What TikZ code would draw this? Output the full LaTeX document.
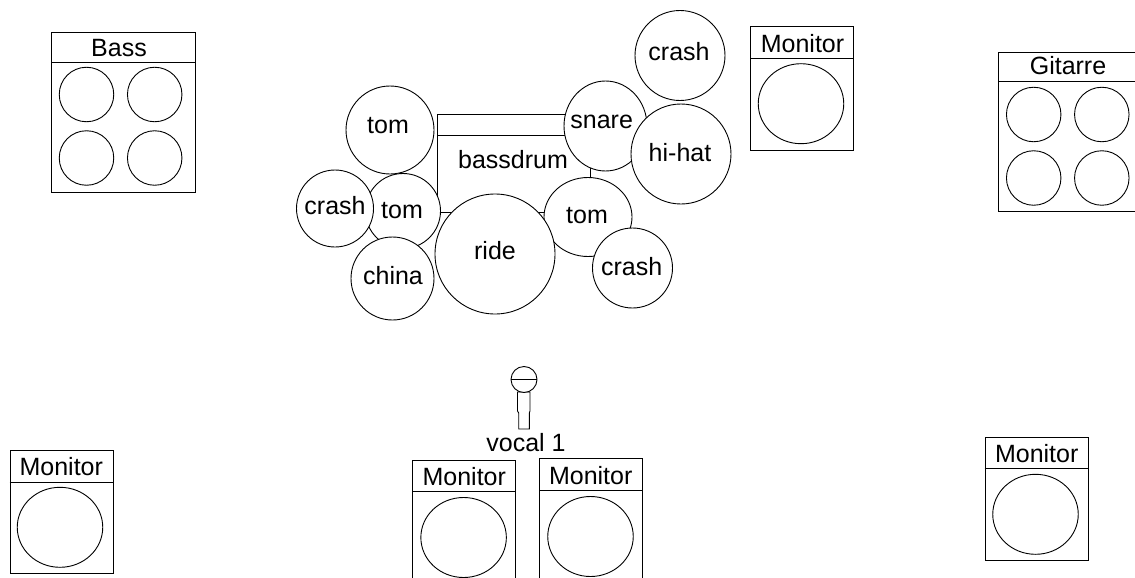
\documentclass[tikz,border=0pt]{standalone}
\usepackage{fontspec}
\setmainfont{Liberation Sans}
\usetikzlibrary{shapes.geometric}
\tikzset{
  ln/.style={draw=black,line width=0.9pt},
  drum/.style={ln,circle,fill=white,inner sep=0pt,minimum size=#1},
  oval/.style={ln,ellipse,fill=white,inner sep=0pt},
  box/.style={ln,rectangle,inner sep=0pt,anchor=north west},
  lab/.style={inner sep=0pt,font=\fontsize{25}{27}\selectfont}
}
% name, box left, box top, box width, box height, header height, text x, text y, cone x, cone y
\newcommand{\monitorcab}[9]{%
  \node[box,minimum width=103pt,minimum height=#4 pt] (#1body) at (#2,#3) {};
  \draw[ln] (#2,#3+#5) -- ++(103,0);
  \node[lab] (#1label) at (#6,#7) {Monitor};
  \node[oval,minimum width=85.5pt,minimum height=80pt] (#1cone) at (#8,#9) {};
}
\begin{document}
\begin{tikzpicture}[x=1pt,y=-1pt]
\useasboundingbox (0,0) rectangle (1135,578);
\fill[white] (0,0) rectangle (1135,578);
\clip (0,0) rectangle (1135,578);

% Bass cabinet
\node[box,minimum width=144pt,minimum height=159.5pt] (bassbody) at (51,32) {};
\draw[ln] (51,62) -- (195,62);
\node[lab] (basslabel) at (119,48) {Bass};
\node[drum=54.5pt] (b1) at (86.5,94.5) {};
\node[drum=54.5pt] (b2) at (154.7,94.5) {};
\node[drum=54.5pt] (b3) at (86.5,158) {};
\node[drum=54.5pt] (b4) at (154.7,158) {};

% Gitarre cabinet
\node[box,minimum width=144pt,minimum height=159pt] (gitbody) at (998,52) {};
\draw[ln] (998,81) -- (1142,81);
\node[lab] (gitlabel) at (1068,66) {Gitarre};
\node[drum=54.5pt] (g1) at (1033.7,114.5) {};
\node[drum=54.5pt] (g2) at (1101.8,114.5) {};
\node[drum=54.5pt] (g3) at (1033.7,178) {};
\node[drum=54.5pt] (g4) at (1101.8,178) {};

% Monitors
\monitorcab{ma}{750}{26}{124}{32}{802.5}{43.3}{801}{103.7}
\monitorcab{mb}{9.5}{450}{123}{32}{61.3}{467}{60}{527.3}
\monitorcab{mc}{412}{459.5}{135}{31.5}{464.3}{476.7}{463.6}{537.5}
\monitorcab{md}{539}{458}{135}{32}{590.7}{475.7}{590.5}{536.5}
\monitorcab{me}{984.5}{437}{123}{31.5}{1036.7}{454}{1035.5}{514.3}

% Bass drum
\node[box,minimum width=153pt,minimum height=98pt] (kick) at (437,114) {};
\draw[ln] (437,135) -- (590,135);
\node[lab] (kicklabel) at (513,160) {bassdrum};

% Kit
\node[drum=90pt] (crashtop) at (680,55.5) {};
\node[lab] (crashtoplabel) at (679,52) {crash};
\node[oval,minimum width=83pt,minimum height=90pt] (snare) at (605.5,126) {};
\node[lab] (snarelabel) at (601.7,121.7) {snare};
\node[drum=100pt] (hihat) at (681,154) {};
\node[lab] (hihatlabel) at (680,152.7) {hi-hat};
\node[drum=88pt] (tomtl) at (390,130) {};
\node[lab] (tomtllabel) at (388,126) {tom};
\node[drum=75pt] (tomleft) at (403,211) {};
\node[lab] (tomleftlabel) at (402,211) {tom};
\node[drum=77pt] (crashleft) at (335,208.5) {};
\node[lab] (crashleftlabel) at (335,206) {crash};
\node[drum=83pt] (china) at (392.5,278.5) {};
\node[lab] (chinalabel) at (393,276) {china};
\node[oval,minimum width=88pt,minimum height=79pt] (tomright) at (588,217) {};
\node[lab] (tomrightlabel) at (587,216) {tom};
\node[drum=120pt] (ride) at (495,254) {};
\node[lab] (ridelabel) at (495,250.7) {ride};
\node[drum=80pt] (crashright) at (632.5,268) {};
\node[lab] (crashrightlabel) at (631.7,266.7) {crash};

% Microphone
\draw[ln] (517.5,392) -- (517.5,411) -- (518.7,413) -- (518.7,429) -- (529.3,429) -- (529.3,413) -- (530,411) -- (530,392) -- cycle;
\node[drum=26pt] (michead) at (524,379.5) {};
\draw[ln] (michead.west) -- (michead.east);
\node[lab] (vocal) at (526,443) {vocal 1};
\end{tikzpicture}
\end{document}
